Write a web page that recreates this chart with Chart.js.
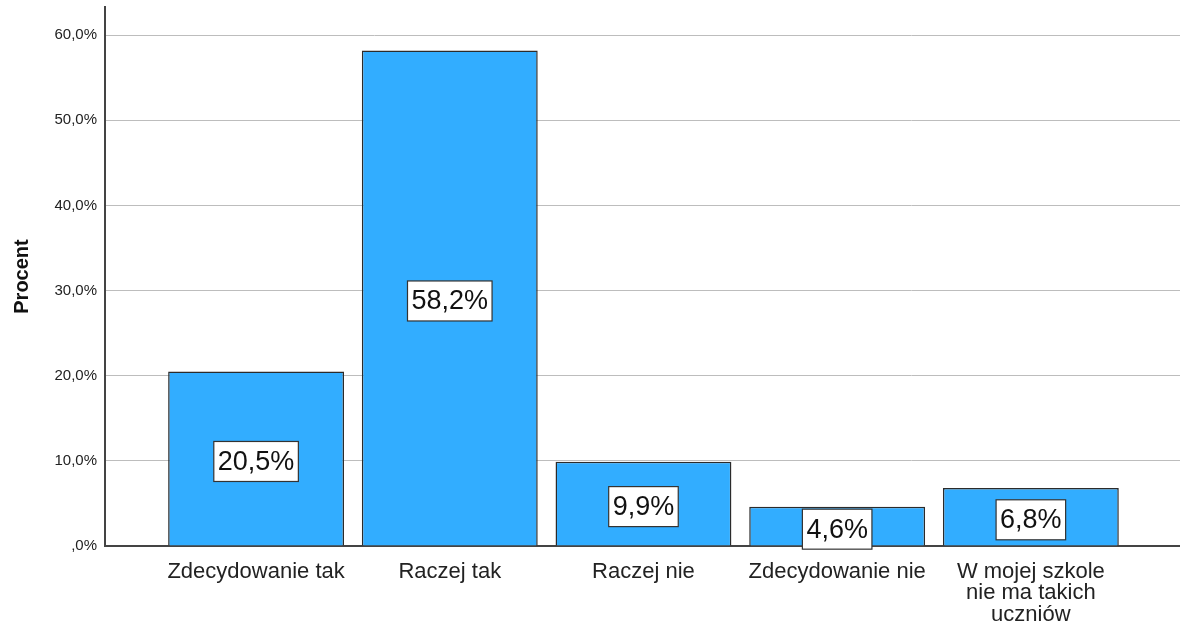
<!DOCTYPE html>
<html>
<head>
<meta charset="utf-8">
<script src="https://cdn.jsdelivr.net/npm/chart.js@4.4.1/dist/chart.umd.min.js"></script>
<style>
    html, body { margin: 0; padding: 0; background: #fff; }
    #wrap { width: 1180px; height: 623px; }
</style>
</head>
<body>
<div id="wrap"><canvas id="barChart"></canvas></div>
<script>
    // odpowiedzi i procenty
    var categories = ['Zdecydowanie tak', 'Raczej tak', 'Raczej nie', 'Zdecydowanie nie', ['W mojej szkole', 'nie ma takich', 'uczniów']];
    var percents = [20.5, 58.2, 9.9, 4.6, 6.8];
    var yTicks = [0, 10, 20, 30, 40, 50, 60];

    function fmtPct(v) {
        if (v === 0) return ',0%';
        return v.toFixed(1).replace('.', ',') + '%';
    }

    var points = [];
    for (var i = 0; i < percents.length; i++) {
        points.push({ x: i + 1, y: percents[i] });
    }

    // biale etykiety z wartoscia w srodku slupka
    var valueBoxes = {
        id: 'valueBoxes',
        afterDatasetsDraw: function (chart) {
            var ctx = chart.ctx;
            var meta = chart.getDatasetMeta(0);
            ctx.save();
            ctx.font = '27px "Liberation Sans", Arial, sans-serif';
            ctx.textAlign = 'center';
            ctx.textBaseline = 'middle';
            meta.data.forEach(function (bar, j) {
                var txt = fmtPct(percents[j]);
                var w = ctx.measureText(txt).width + 8;
                var h = 40;
                var cy = (bar.y + bar.base) / 2 + 3;
                ctx.fillStyle = '#fff';
                ctx.fillRect(bar.x - w / 2, cy - h / 2, w, h);
                ctx.strokeStyle = '#333';
                ctx.lineWidth = 1.2;
                ctx.strokeRect(bar.x - w / 2, cy - h / 2, w, h);
                ctx.fillStyle = '#111';
                ctx.fillText(txt, bar.x, cy + 1);
            });
            ctx.restore();
        }
    };

    var chartCanvas = document.getElementById('barChart').getContext('2d');
    var barChart = new Chart(chartCanvas, {
        type: 'bar',
        data: {
            datasets: [{
                data: points,
                backgroundColor: '#32adff',
                borderColor: '#2b2b2b',
                borderWidth: 1.5,
                barPercentage: 0.908,
                categoryPercentage: 1
            }]
        },
        plugins: [valueBoxes],
        options: {
            responsive: true,
            maintainAspectRatio: false,
            animation: false,
            layout: { padding: { top: 7, right: 0, left: 0, bottom: 0 } },
            plugins: {
                legend: { display: false },
                tooltip: { enabled: false }
            },
            scales: {
                x: {
                    type: 'linear',
                    offset: false,
                    min: 0.22,
                    max: 5.77,
                    afterFit: function (scale) {
                        scale.height = 77;
                        scale.paddingLeft = 0;
                        scale.paddingRight = 0;
                    },
                    afterBuildTicks: function (scale) {
                        scale.ticks = categories.map(function (c, k) { return { value: k + 1 }; });
                    },
                    grid: { display: false, drawTicks: false, offset: false },
                    border: { display: true, color: '#444', width: 2 },
                    ticks: {
                        padding: 15,
                        maxRotation: 0,
                        autoSkip: false,
                        color: '#222',
                        font: { family: '"Liberation Sans", Arial, sans-serif', size: 22, lineHeight: 0.98 },
                        callback: function (v) { return categories[v - 1]; }
                    }
                },
                y: {
                    min: 0,
                    max: 63.3,
                    afterFit: function (scale) {
                        scale.width = 105;
                        scale.paddingTop = 0;
                        scale.paddingBottom = 0;
                    },
                    afterBuildTicks: function (scale) {
                        scale.ticks = yTicks.map(function (t) { return { value: t }; });
                    },
                    grid: { color: '#bdbdbd', lineWidth: 1, drawTicks: false },
                    border: { display: true, color: '#444', width: 2 },
                    ticks: {
                        padding: 8,
                        color: '#222',
                        font: { family: '"Liberation Sans", Arial, sans-serif', size: 15 },
                        callback: function (v) { return fmtPct(v); }
                    },
                    title: {
                        display: true,
                        text: 'Procent',
                        color: '#111',
                        padding: { top: 10, bottom: 12 },
                        font: { family: '"Liberation Sans", Arial, sans-serif', size: 20, weight: 'bold' }
                    }
                }
            }
        }
    });
</script>
</body>
</html>
